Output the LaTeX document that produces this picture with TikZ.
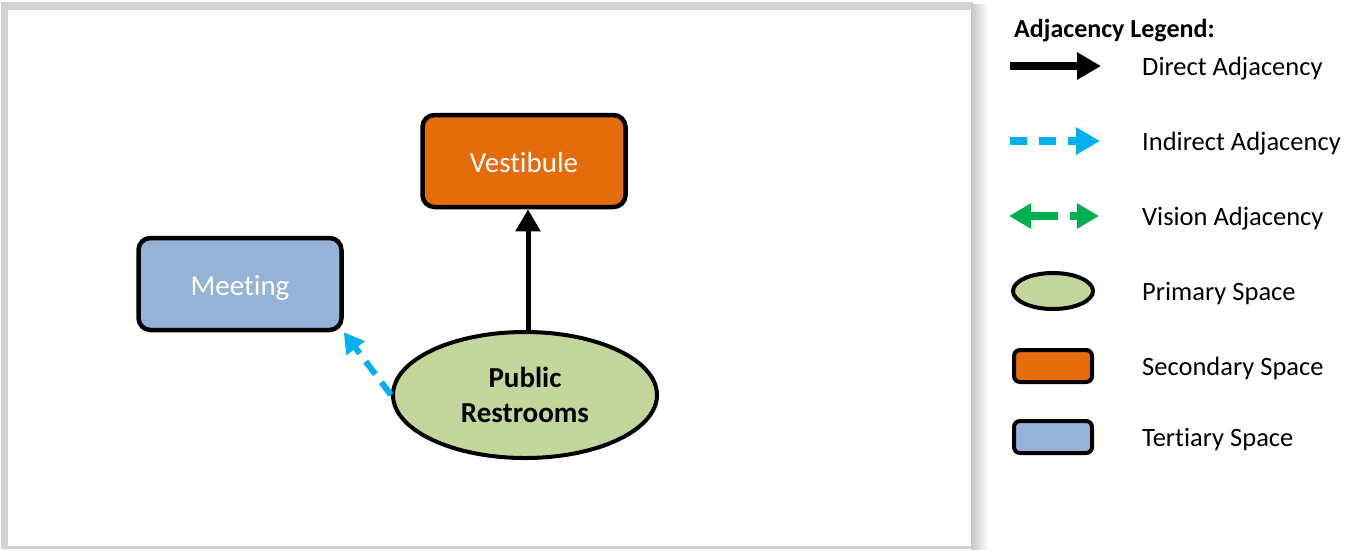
\documentclass[tikz,border=0pt]{standalone}
\usepackage{fontspec}
\setmainfont{Carlito}[Ligatures=NoCommon]
\usetikzlibrary{arrows.meta,shapes.geometric}
\definecolor{secorange}{RGB}{228,108,10}
\definecolor{terblue}{RGB}{149,179,215}
\definecolor{primgreen}{RGB}{195,214,155}
\definecolor{indblue}{RGB}{0,176,240}
\definecolor{visgreen}{RGB}{0,176,80}
\tikzset{
  space/.style={draw=black, line width=4.5pt, rounded corners=12pt, minimum width=203pt, minimum height=92pt, font=\fontsize{29}{34}\selectfont, text=white, inner sep=0pt, text height=25pt, text depth=2pt},
  primary/.style={draw=black, ellipse, line width=4pt, fill=primgreen, minimum width=264pt, minimum height=126pt, font=\bfseries\fontsize{29}{35}\selectfont, align=center, inner sep=0pt},
  direct/.style={draw=black, line width=5pt, -{Triangle[length=22pt,width=24pt]}},
  indirect/.style={draw=indblue, line width=6pt, dash pattern=on 16pt off 10pt, -{Triangle[length=20pt,width=22pt]}},
  legtext/.style={anchor=west, font=\fontsize{26.5}{30}\selectfont, inner sep=0pt, yshift=-2.5pt},
  legbox/.style={draw=black, line width=4pt, rounded corners=6pt, minimum width=78pt, minimum height=32pt, inner sep=0pt}
}
\begin{document}
\begin{tikzpicture}[x=1pt,y=-1pt]
\useasboundingbox (0,0) rectangle (1351,550);
% page frame with its drop shadow
\fill[gray!35] (1,2) rectangle (973,549);
\shade[left color=gray!45, right color=white] (971,4) rectangle (988,549);
\fill[white] (8,10) rectangle (971,546);

% spaces
\node[space, fill=secorange] (vest) at (524,161) {Vestibule};
\node[space, fill=terblue] (meet) at (240,284) {Meeting};
\node[primary] (rest) at (525,395) {Public\\Restrooms};

% adjacencies
\draw[direct] (rest.north) ++(3,0) coordinate (rtop) -- (rtop |- vest.south);
\draw[indirect] (rest.west) -- (meet.south east);

% legend
\node[anchor=west, font=\bfseries\fontsize{26}{30}\selectfont, inner sep=0pt] (ltitle) at (1014,31) {Adjacency Legend:};
\coordinate (a1s) at (1010,66); \coordinate (a1e) at (1101,66);
\draw[black, line width=8pt, -{Triangle[length=24pt,width=26pt]}] (a1s) -- (a1e);
\node[legtext] (l1) at (1142,66) {Direct Adjacency};
\coordinate (a2s) at (1010,141); \coordinate (a2e) at (1100,141);
\draw[indblue, line width=8pt, dash pattern=on 17pt off 12pt, -{Triangle[length=24pt,width=26pt]}] (a2s) -- (a2e);
\node[legtext] (l2) at (1142,141) {Indirect Adjacency};
\coordinate (a3s) at (1009,216); \coordinate (a3e) at (1099,216);
\draw[visgreen, line width=8pt, dash pattern=on 28pt off 12pt, {Triangle[length=22pt,width=24pt]}-{Triangle[length=22pt,width=24pt]}] (a3s) -- (a3e);
\node[legtext] (l3) at (1142,216) {Vision Adjacency};
\node[draw=black, ellipse, line width=4pt, fill=primgreen, minimum width=80pt, minimum height=36pt, inner sep=0pt] (e4) at (1053,291) {};
\node[legtext] (l4) at (1142,291) {Primary Space};
\node[legbox, fill=secorange] (b5) at (1053,366) {};
\node[legtext] (l5) at (1142,366) {Secondary Space};
\node[legbox, fill=terblue] (b6) at (1053,437) {};
\node[legtext] (l6) at (1142,437) {Tertiary Space};
\end{tikzpicture}
\end{document}
